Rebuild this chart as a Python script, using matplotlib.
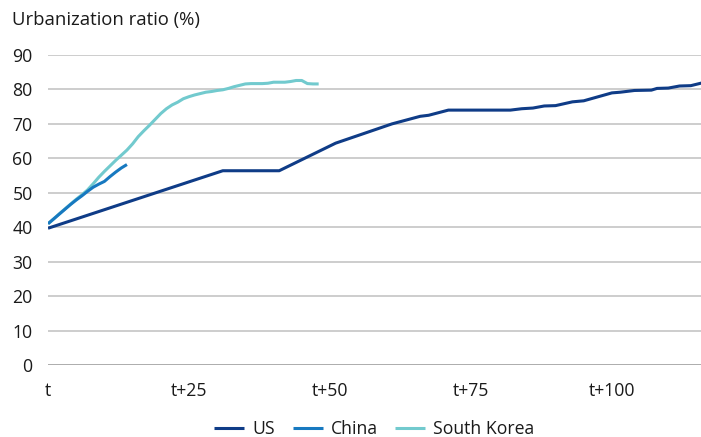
import matplotlib
matplotlib.use("Agg")
import matplotlib.pyplot as plt

plt.rcParams['font.family'] = ['Open Sans', 'DejaVu Sans']

# Years since start of urbanization take-off (t) and urbanization ratio (%)
us_t = [0, 31, 41, 51, 61, 66, 67.5, 71, 82, 84, 86, 88, 90, 93, 95, 100,
        101.5, 104, 107, 108, 110, 112, 114, 116]
us_v = [39.7, 56.4, 56.4, 64.4, 70.0, 72.2, 72.5, 74.0, 74.0, 74.4, 74.6,
        75.2, 75.3, 76.4, 76.7, 79.0, 79.2, 79.7, 79.8, 80.3, 80.4, 81.0,
        81.1, 81.9]

china_t = list(range(0, 15))
china_v = [41.0, 42.4, 43.8, 45.2, 46.6, 47.9, 49.1, 50.4, 51.6, 52.5, 53.3,
           54.7, 56.0, 57.2, 58.2]

korea_t = list(range(0, 49))
korea_v = [41.0, 42.4, 43.9, 45.3, 46.7, 48.1, 49.4, 50.8, 52.6, 54.5, 56.2,
           57.8, 59.4, 60.9, 62.4, 64.2, 66.3, 68.0, 69.6, 71.3, 73.0, 74.4,
           75.5, 76.3, 77.3, 77.9, 78.4, 78.8, 79.2, 79.4, 79.7, 79.9, 80.3,
           80.8, 81.2, 81.6, 81.7, 81.7, 81.7, 81.8, 82.1, 82.1, 82.1, 82.3,
           82.6, 82.6, 81.7, 81.6, 81.6]

x_ticks = [0, 25, 50, 75, 100]
x_labels = ['t', 't+25', 't+50', 't+75', 't+100']
y_ticks = list(range(0, 100, 10))

W, H = 701, 437
fig = plt.figure(figsize=(W / 100, H / 100), dpi=100)
ax = fig.add_axes([48 / W, 1 - 365 / H, (W - 48) / W, (365 - 55) / H])

for s in ax.spines.values():
    s.set_visible(False)

for y in y_ticks:
    ax.axhline(y, color='#a6a6a6' if y == 0 else '#c9c9c9', lw=1.3, zorder=1)

lw = 2.2
ax.plot(us_t, us_v, color='#0f3c87', lw=lw, label='US', zorder=3,
        solid_capstyle='butt')
ax.plot(china_t, china_v, color='#1779c0', lw=lw, label='China', zorder=4,
        solid_capstyle='butt')
ax.plot(korea_t, korea_v, color='#72cace', lw=lw, label='South Korea',
        zorder=2, solid_capstyle='butt')

fs = 12.7
ax.set_xlim(0, 115.8)
ax.set_ylim(0, 90)
ax.set_xticks(x_ticks)
ax.set_xticklabels(x_labels)
ax.set_yticks(y_ticks)
ax.tick_params(axis='both', length=0, labelsize=fs, colors='#1a1a1a')
ax.tick_params(axis='y', pad=11)
ax.tick_params(axis='x', pad=12)

fig.text(12 / W, 1 - 20 / H, 'Urbanization ratio (%)', fontsize=13.3,
         color='#1a1a1a', ha='left', va='center')

leg = ax.legend(loc='center', bbox_to_anchor=(0.5, -(429 - 365) / (365 - 55)),
                ncol=3, frameon=False, fontsize=fs, handlelength=1.7,
                handletextpad=0.45, columnspacing=1.0)
for t in leg.get_texts():
    t.set_color('#1a1a1a')

fig.savefig('out.png', dpi=100)
